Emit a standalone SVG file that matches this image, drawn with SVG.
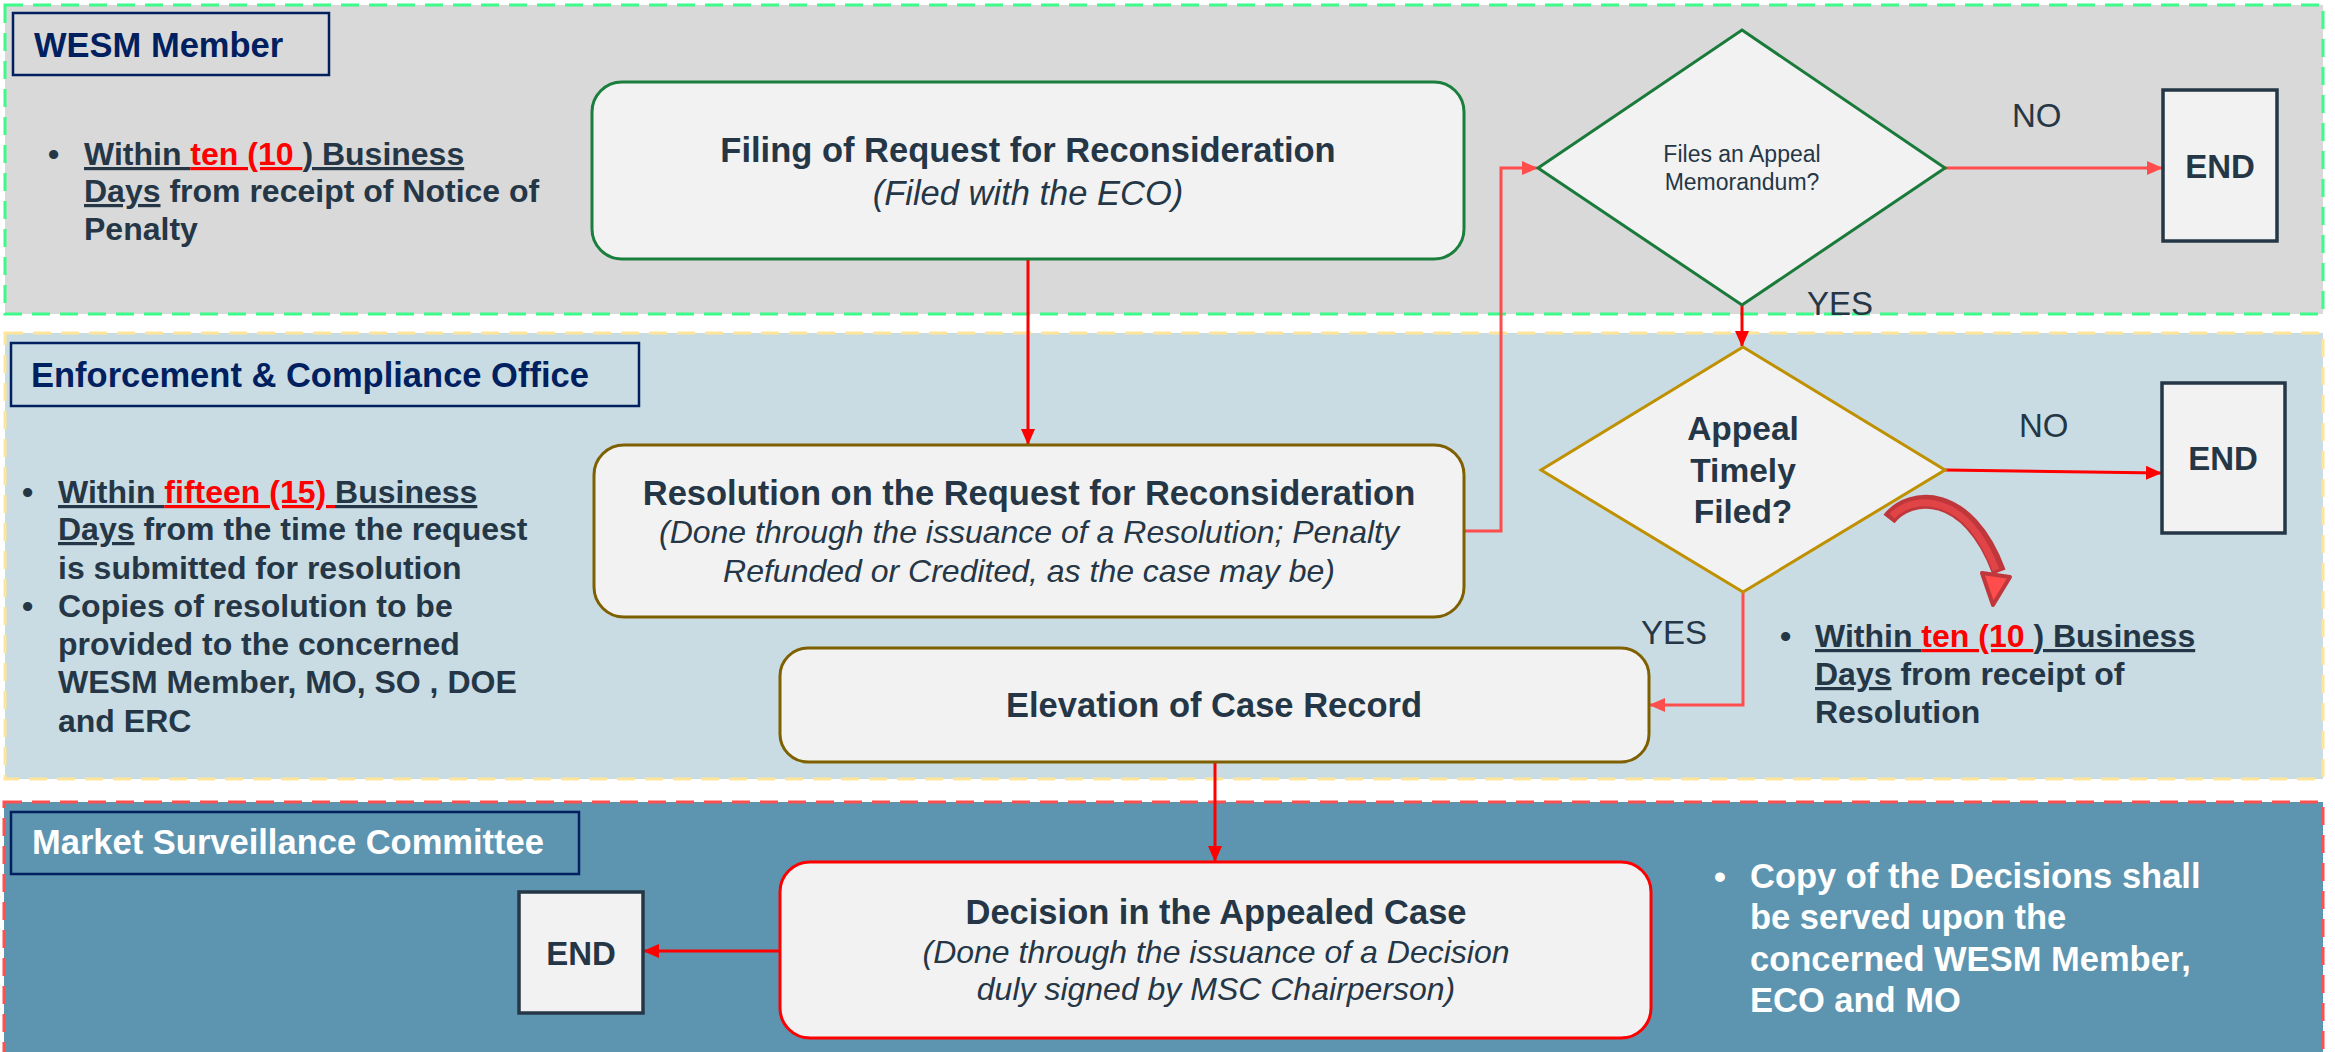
<svg xmlns="http://www.w3.org/2000/svg" width="2335" height="1052" viewBox="0 0 2335 1052">
<style>
text{font-family:"Liberation Sans",Arial,sans-serif;fill:#253746}
.b{font-weight:bold}
.t{font-size:34.5px;font-weight:bold;fill:#002060}
.h{font-size:34.5px;font-weight:bold;text-anchor:middle}
.s{font-size:32px;font-style:italic;text-anchor:middle}
.bl{font-size:32px;font-weight:bold}
.u{text-decoration:underline;text-decoration-thickness:3px}
.r{fill:#ff0000}
.lbl{font-size:33px}
.end{font-size:33px;font-weight:bold;text-anchor:middle}
.box{fill:#f2f2f2;stroke-width:3}
.endbox{fill:#f2f2f2;stroke:#253746;stroke-width:3.5}
.c{fill:none;stroke-width:3}
</style>
<defs>
<marker id="ar" markerUnits="userSpaceOnUse" markerWidth="16" markerHeight="14" refX="15" refY="7" orient="auto"><path d="M0,0 L16,7 L0,14 z" fill="#ff0000"/></marker>
<marker id="ap" markerUnits="userSpaceOnUse" markerWidth="16" markerHeight="14" refX="15" refY="7" orient="auto"><path d="M0,0 L16,7 L0,14 z" fill="#ff4d4d"/></marker>
</defs>
<rect width="2335" height="1052" fill="#ffffff"/>
<g id="lane-wesm">
<rect x="5" y="5" width="2318" height="309" fill="#d9d9d9" stroke="#3dfa8a" stroke-width="3" stroke-dasharray="18 10"/>
<rect x="13" y="13" width="316" height="62" fill="none" stroke="#002060" stroke-width="2.5"/>
<text class="t" x="34" y="57">WESM Member</text>
<text class="bl" x="48" y="165">•</text>
<text class="bl" x="84" y="165"><tspan class="u">Within </tspan><tspan class="u r">ten (10 </tspan><tspan class="u">) Business</tspan></text>
<text class="bl" x="84" y="202"><tspan class="u">Days</tspan> from receipt of Notice of</text>
<text class="bl" x="84" y="240">Penalty</text>
</g>
<g id="lane-eco">
<rect x="5" y="333" width="2318" height="446" fill="#c9dce3" stroke="#ffe599" stroke-width="3" stroke-dasharray="18 10"/>
<rect x="11" y="343" width="628" height="63" fill="none" stroke="#002060" stroke-width="2.5"/>
<text class="t" x="31" y="387">Enforcement &amp; Compliance Office</text>
<text class="bl" x="22" y="503">•</text>
<text class="bl" x="58" y="503"><tspan class="u">Within </tspan><tspan class="u r">fifteen (15) </tspan><tspan class="u">Business</tspan></text>
<text class="bl" x="58" y="540"><tspan class="u">Days</tspan> from the time the request</text>
<text class="bl" x="58" y="579">is submitted for resolution</text>
<text class="bl" x="22" y="617">•</text>
<text class="bl" x="58" y="617">Copies of resolution to be</text>
<text class="bl" x="58" y="655">provided to the concerned</text>
<text class="bl" x="58" y="693">WESM Member, MO, SO , DOE</text>
<text class="bl" x="58" y="732">and ERC</text>
<text class="bl" x="1780" y="647">•</text>
<text class="bl" x="1815" y="647"><tspan class="u">Within </tspan><tspan class="u r">ten (10 </tspan><tspan class="u">) Business</tspan></text>
<text class="bl" x="1815" y="685"><tspan class="u">Days</tspan> from receipt of</text>
<text class="bl" x="1815" y="723">Resolution</text>
</g>
<g id="lane-msc">
<rect x="4" y="802" width="2319" height="260" fill="#5d95b0" stroke="#ff5050" stroke-width="3" stroke-dasharray="18 10"/>
<rect x="11" y="812" width="568" height="62" fill="none" stroke="#002060" stroke-width="2.5"/>
<text class="t" x="32" y="854" style="fill:#ffffff">Market Surveillance Committee</text>
<text class="bl" x="1714" y="888" style="fill:#ffffff;font-size:34px">•</text>
<text class="bl" x="1750" y="888" style="fill:#ffffff;font-size:34.5px">Copy of the Decisions shall</text>
<text class="bl" x="1750" y="929" style="fill:#ffffff;font-size:34.5px">be served upon the</text>
<text class="bl" x="1750" y="971" style="fill:#ffffff;font-size:34.5px">concerned WESM Member,</text>
<text class="bl" x="1750" y="1012" style="fill:#ffffff;font-size:34.5px">ECO and MO</text>
</g>
<g id="connectors">
<path class="c" d="M1028,259 V444" stroke="#ff0000" stroke-width="2" marker-end="url(#ar)"/>
<path class="c" d="M1464,531 H1501 V168 H1537" stroke="#ff4d4d" marker-end="url(#ap)"/>
<path class="c" d="M1945,168 H2162" stroke="#ff4d4d" marker-end="url(#ap)"/>
<path class="c" d="M1742,305 V346" stroke="#ff0000" stroke-width="2" marker-end="url(#ar)"/>
<path class="c" d="M1945,470 L2161,473" stroke="#ff0000" marker-end="url(#ar)"/>
<path class="c" d="M1743,592 V705 H1650" stroke="#ff4d4d" marker-end="url(#ap)"/>
<path class="c" d="M1215,762 V861" stroke="#ff0000" stroke-width="2" marker-end="url(#ar)"/>
<path class="c" d="M780,951 H644" stroke="#ff0000" marker-end="url(#ar)"/>
<text class="lbl" x="2012" y="127">NO</text>
<text class="lbl" x="2019" y="437">NO</text>
<text class="lbl" x="1807" y="315">YES</text>
<text class="lbl" x="1641" y="644">YES</text>
</g>
<g id="curved-arrow">
<path d="M1889,519 C1910,492 1968,488 1999,572" fill="none" stroke="#c0373b" stroke-width="14"/>
<path d="M1892,516 C1914,494 1966,492 1996,570" fill="none" stroke="#e04446" stroke-width="7"/>
<polygon points="1982,573 2010,577 1993,605" fill="#ff4d4d" stroke="#c0373b" stroke-width="4" stroke-linejoin="round"/>
</g>
<g id="filing">
<rect class="box" x="592" y="82" width="872" height="177" rx="30" stroke="#1a7f3c"/>
<text class="h" x="1028" y="162">Filing of Request for Reconsideration</text>
<text class="s" x="1028" y="205" style="font-size:34.5px">(Filed with the ECO)</text>
</g>
<g id="appeal-memo">
<polygon class="box" points="1742,30 1945,168 1742,305 1538,168" stroke="#1a7a3a"/>
<text x="1742" y="162" style="font-size:23px;text-anchor:middle">Files an Appeal</text>
<text x="1742" y="190" style="font-size:23px;text-anchor:middle">Memorandum?</text>
</g>
<g id="end1">
<rect class="endbox" x="2163" y="90" width="114" height="151"/>
<text class="end" x="2220" y="178">END</text>
</g>
<g id="resolution">
<rect class="box" x="594" y="445" width="870" height="172" rx="30" stroke="#7f6000"/>
<text class="h" x="1029" y="505">Resolution on the Request for Reconsideration</text>
<text class="s" x="1029" y="543">(Done through the issuance of a Resolution; Penalty</text>
<text class="s" x="1029" y="582">Refunded or Credited, as the case may be)</text>
</g>
<g id="appeal-timely">
<polygon class="box" points="1743,347 1945,470 1743,592 1541,470" stroke="#bf9000"/>
<text class="h" x="1743" y="440" style="font-size:33.5px">Appeal</text>
<text class="h" x="1743" y="482" style="font-size:33.5px">Timely</text>
<text class="h" x="1743" y="523" style="font-size:33.5px">Filed?</text>
</g>
<g id="end2">
<rect class="endbox" x="2162" y="383" width="123" height="150"/>
<text class="end" x="2223" y="470">END</text>
</g>
<g id="elevation">
<rect class="box" x="780" y="648" width="869" height="114" rx="28" stroke="#7f6000"/>
<text class="h" x="1214" y="717">Elevation of Case Record</text>
</g>
<g id="decision">
<rect class="box" x="780" y="862" width="871" height="176" rx="30" stroke="#ff0000"/>
<text class="h" x="1216" y="924">Decision in the Appealed Case</text>
<text class="s" x="1216" y="963">(Done through the issuance of a Decision</text>
<text class="s" x="1216" y="1000">duly signed by MSC Chairperson)</text>
</g>
<g id="end3">
<rect class="endbox" x="519" y="892" width="124" height="121"/>
<text class="end" x="581" y="965">END</text>
</g>
</svg>
